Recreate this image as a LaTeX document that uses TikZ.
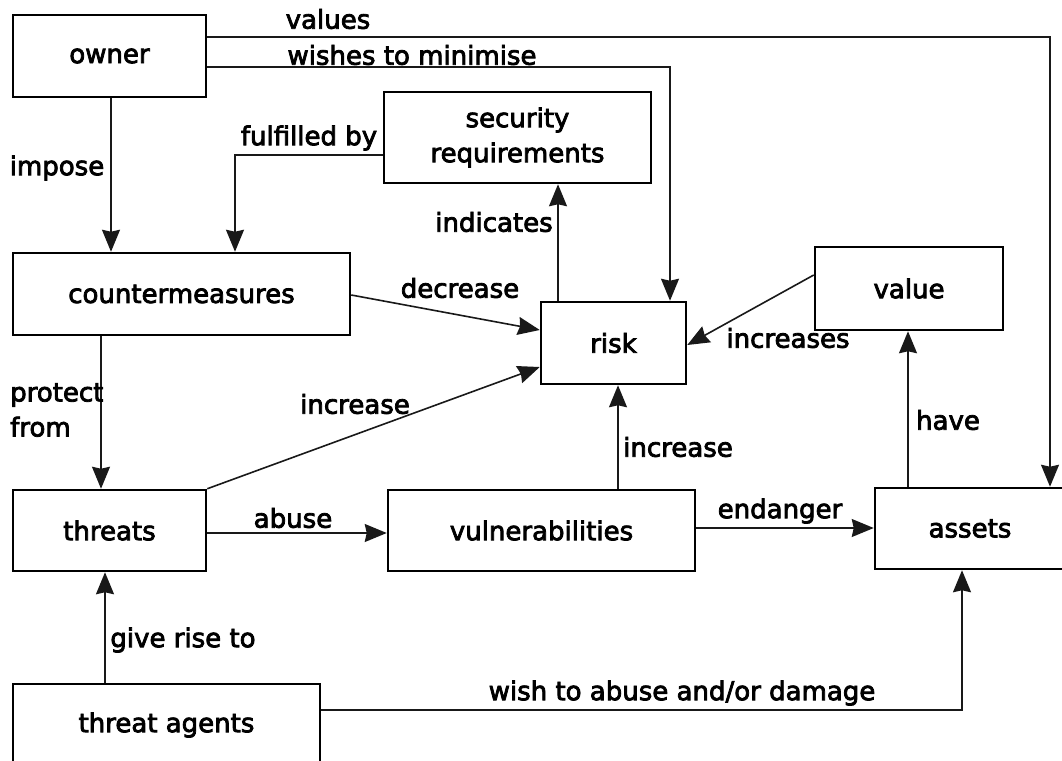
\documentclass[tikz,border=0pt]{standalone}
\usepackage{fontspec}
\setmainfont{DejaVu Sans}[FakeBold=3]
\usetikzlibrary{arrows.meta}
\begin{document}
\begin{tikzpicture}[x=1pt,y=-1pt,
  box/.style={draw=black, line width=2.5pt, inner sep=0pt,
    font=\fontsize{26}{35}\selectfont, align=center},
  lbl/.style={inner sep=0pt, font=\fontsize{26}{35}\selectfont},
  conn/.style={draw=black!90, line width=1.6pt,
    -{Stealth[length=22pt,width=18pt,inset=2pt]}}]
\useasboundingbox (0,0) rectangle (1062,760);

% entities
\node[box, minimum width=193pt, minimum height=82pt] (owner) at (109.5,56) {owner};
\node[box, minimum width=337pt, minimum height=82pt] (cm) at (181.5,294) {countermeasures};
\node[box, minimum width=267pt, minimum height=91pt] (secreq) at (517.5,137.5) {security\\requirements};
\node[box, minimum width=145pt, minimum height=82pt] (risk) at (613.5,343) {risk};
\node[box, minimum width=188pt, minimum height=83pt] (value) at (909,288.5) {value};
\node[box, minimum width=193pt, minimum height=81pt] (threats) at (109.5,530.5) {threats};
\node[box, minimum width=307pt, minimum height=81pt] (vuln) at (541.5,530.5) {vulnerabilities};
\node[box, minimum width=190pt, minimum height=81pt] (assets) at (970,528.5) {assets};
\node[box, minimum width=307pt, minimum height=82pt] (agents) at (166.5,725) {threat agents};

% routing corners
\coordinate (vc) at (1050,37);
\coordinate (wc) at (670,67);
\coordinate (fc) at (235,155);
\coordinate (dc) at (962,710);

% relations
\draw[conn] (owner.east |- vc) -- (vc) -- (vc |- assets.north);
\draw[conn] (owner.east |- wc) -- (wc) -- (wc |- risk.north);
\draw[conn] (owner.south -| 111,0) -- (cm.north -| 111,0);
\draw[conn] (secreq.west |- fc) -- (fc) -- (fc |- cm.north);
\draw[conn] (risk.north -| 558,0) -- (secreq.south -| 558,0);
\draw[conn] (cm.east |- 0,295) -- (risk.west |- 0,330);
\draw[conn] (threats.north east) -- (risk.west |- 0,367);
\draw[conn] (value.west |- 0,275) -- (risk.east |- 0,345);
\draw[conn] (cm.south -| 101,0) -- (threats.north -| 101,0);
\draw[conn] (threats.east |- 0,533) -- (vuln.west |- 0,533);
\draw[conn] (vuln.north -| 618,0) -- (risk.south -| 618,0);
\draw[conn] (vuln.east |- 0,528) -- (assets.west |- 0,528);
\draw[conn] (assets.north -| 908,0) -- (value.south -| 908,0);
\draw[conn] (agents.north -| 105,0) -- (threats.south -| 105,0);
\draw[conn] (agents.east |- dc) -- (dc) -- (dc |- assets.south);

% relation labels
\node[lbl] (l-values) at (328,19) {values};
\node[lbl] (l-wishes) at (412,55) {wishes to minimise};
\node[lbl] (l-impose) at (57,168) {impose};
\node[lbl] (l-fulfil) at (309,138) {fulfilled by};
\node[lbl] (l-indic) at (494,222) {indicates};
\node[lbl] (l-decr) at (460,288) {decrease};
\node[lbl] (l-incs) at (788,338) {increases};
\node[lbl, align=left, anchor=west] (l-prot) at (10,410) {protect\\from};
\node[lbl] (l-inc1) at (355,404) {increase};
\node[lbl] (l-inc2) at (678,447) {increase};
\node[lbl] (l-have) at (948,420) {have};
\node[lbl] (l-abuse) at (293,518) {abuse};
\node[lbl] (l-endgr) at (780,511) {endanger};
\node[lbl] (l-rise) at (183,640) {give rise to};
\node[lbl] (l-wish) at (682,693) {wish to abuse and/or damage};
\end{tikzpicture}
\end{document}
